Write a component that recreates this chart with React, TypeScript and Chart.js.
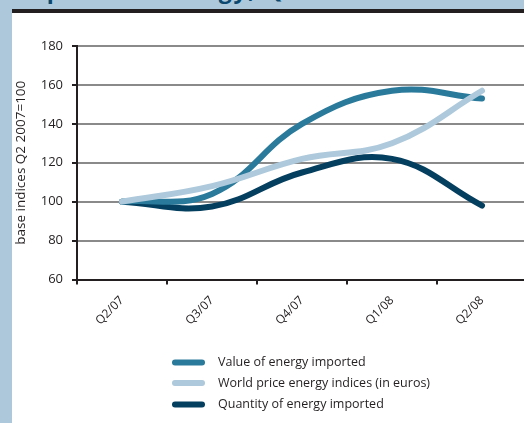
import React, { useEffect, useRef } from "react";
import { Chart, registerables } from "chart.js";

Chart.register(...registerables);

// Quarterly base indices, Q2 2007 = 100
const quarters = ["Q2/07", "Q3/07", "Q4/07", "Q1/08", "Q2/08"];
const valueImported = [100, 104, 140, 157, 153];
const worldPriceIndex = [100, 108, 122, 130, 157];
const quantityImported = [100, 97.5, 115, 122, 98];

const seriesLabels = [
  "Value of energy imported",
  "World price energy indices (in euros)",
  "Quantity of energy imported",
];
const seriesColors = ["#2a7a9b", "#adc9db", "#053f5f"];

const yMin = 60;
const yMax = 180;
const yStep = 20;

const FONT = "'Open Sans', 'Noto Sans', sans-serif";
const INK = "#231f20";

// Draws the legend as a vertical stack of rounded line samples under the axis.
const stackedLegend = {
  id: "stackedLegend",
  afterDraw(chart: any) {
    const ctx = chart.ctx;
    const x1 = 163;
    const x2 = 190;
    const textX = 206;
    const rowY = [349.5, 370, 391.5];
    ctx.save();
    chart.data.datasets.forEach((ds: any, i: number) => {
      const y = rowY[i];
      ctx.beginPath();
      ctx.lineCap = "round";
      ctx.lineWidth = 6;
      ctx.strokeStyle = ds.borderColor;
      ctx.moveTo(x1, y);
      ctx.lineTo(x2, y);
      ctx.stroke();
      ctx.fillStyle = INK;
      ctx.font = `12.5px ${FONT}`;
      ctx.textBaseline = "middle";
      ctx.textAlign = "left";
      ctx.fillText(ds.label, textX, y);
    });
    ctx.restore();
  },
};

function EnergyChart() {
  const canvasRef = useRef<HTMLCanvasElement | null>(null);

  useEffect(() => {
    const canvas = canvasRef.current;
    if (!canvas) return;
    const seriesValues = [valueImported, worldPriceIndex, quantityImported];
    const drawOrder = [1, 0, 2];
    const chart = new Chart(canvas, {
      type: "line",
      data: {
        labels: quarters,
        datasets: seriesValues.map((values, i) => ({
          label: seriesLabels[i],
          data: values,
          borderColor: seriesColors[i],
          backgroundColor: seriesColors[i],
          borderWidth: 6,
          borderCapStyle: "round",
          borderJoinStyle: "round",
          pointRadius: 0,
          pointHoverRadius: 0,
          tension: 0.4,
          fill: false,
          order: drawOrder[i],
        })),
      },
      options: {
        responsive: false,
        animation: false,
        events: [],
        layout: { padding: { top: 33, right: 25, bottom: 43.5, left: 0 } },
        plugins: {
          legend: { display: false },
          tooltip: { enabled: false },
          title: { display: false },
        },
        scales: {
          x: {
            type: "category",
            offset: true,
            grid: {
              offset: true,
              drawOnChartArea: false,
              drawTicks: true,
              tickLength: 5,
              tickWidth: 2,
              tickColor: INK,
              lineWidth: 2,
            },
            border: { display: true, color: INK, width: 2 },
            ticks: {
              maxRotation: 45,
              minRotation: 45,
              padding: 9,
              color: INK,
              font: { family: FONT, size: 12 },
              autoSkip: false,
            },
            afterFit: (scale: any) => {
              scale.height = 100;
            },
          },
          y: {
            min: yMin,
            max: yMax,
            grid: {
              color: "#8a8a8a",
              lineWidth: 2,
              drawTicks: true,
              tickLength: 5,
              tickColor: INK,
              tickWidth: 2,
            },
            border: { display: true, color: INK, width: 2 },
            ticks: {
              stepSize: yStep,
              padding: 9,
              color: INK,
              font: { family: FONT, size: 13 },
            },
            title: {
              display: true,
              text: "base indices Q2 2007=100",
              color: INK,
              font: { family: FONT, size: 13.5 },
              padding: { top: 1, bottom: 0 },
            },
            afterFit: (scale: any) => {
              scale.width = 65;
            },
          },
        },
      },
      plugins: [stackedLegend],
    });
    return () => chart.destroy();
  }, []);

  return <canvas ref={canvasRef} width={540} height={410} style={{ display: "block" }} />;
}

export default function App() {
  return (
    <div
      style={{
        position: "fixed",
        left: 0,
        top: 0,
        width: 524,
        height: 423,
        background: "#adc8da",
        overflow: "hidden",
      }}
    >
      <div
        style={{
          position: "absolute",
          left: 13,
          top: -22,
          font: `bold 23px ${FONT}`,
          lineHeight: "23px",
          letterSpacing: "1.8px",
          color: "#0b4870",
          whiteSpace: "nowrap",
        }}
      >
        Imports of energy, Q2 2007 = 100
      </div>
      <div
        style={{
          position: "absolute",
          left: 12,
          top: 9,
          width: 512,
          height: 4,
          background: INK,
        }}
      />
      <div
        style={{
          position: "absolute",
          left: 12,
          top: 13,
          width: 512,
          height: 410,
          background: "#ffffff",
          overflow: "hidden",
        }}
      >
        <EnergyChart />
      </div>
    </div>
  );
}
